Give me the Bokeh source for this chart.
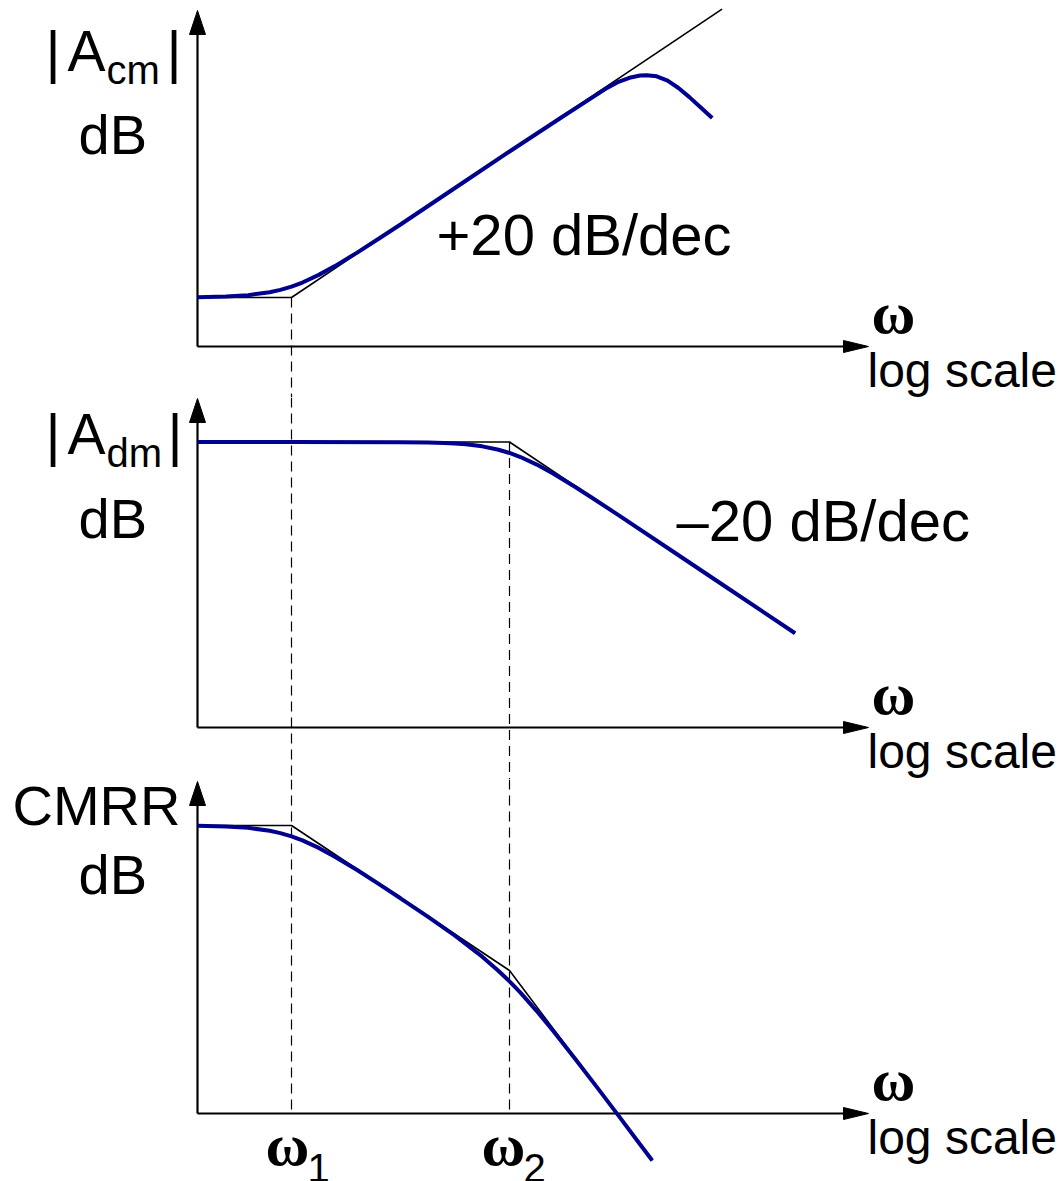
from bokeh.plotting import figure
from bokeh.models import Label, Range1d
from bokeh.layouts import column
from bokeh.embed import file_html
from bokeh.resources import INLINE

# ---------------- data (omega in rad/s, magnitudes in dB) ----------------
w1 = 10.0        # common-mode zero / first corner
w2 = 1000.0      # differential-mode pole / second corner

acm_w = [1.37, 2.5, 4.0, 6.3, 7.9, 10, 12.6, 17.8, 25, 40, 63, 100, 316, 1000,
         3160, 6310, 7940, 10000, 12600, 15800, 18200, 22400, 28200, 35500, 44700, 56200, 72400]
acm_db = [0.08, 0.27, 0.64, 1.46, 2.1, 3.0, 4.1, 6.2, 8.6, 12.3, 16.1, 20.0, 30.0, 40.0,
          49.8, 55.6, 57.5, 59.1, 60.2, 60.8, 60.9, 60.6, 59.4, 57.4, 54.9, 52.2, 49.2]
acm_asym_w = [1.37, 10, 89100]
acm_asym_db = [0, 0, 79]

adm_w = [1.37, 10, 100, 178, 251, 316, 398, 562, 794, 1000, 1260, 1780, 2510,
         3980, 5620, 10000, 31600, 100000, 417000]
adm_db = [80, 80, 79.96, 79.87, 79.73, 79.59, 79.36, 78.81, 77.88, 76.99, 75.88, 73.81,
          71.36, 67.73, 64.87, 59.96, 50.0, 40.0, 27.6]
adm_asym_w = [1.37, 1000, 417000]
adm_asym_db = [80, 80, 27.6]

cmrr_w = [1.37, 2.5, 4.0, 6.3, 7.9, 10, 12.6, 17.8, 25, 40, 63, 100, 178, 316, 562,
          794, 1000, 1260, 1780, 2510, 3980, 6310, 10000, 15800, 20400]
cmrr_db = [79.92, 79.73, 79.36, 78.54, 77.9, 76.99, 75.88, 73.81, 71.36, 67.73, 63.89,
           59.92, 54.85, 49.59, 43.81, 39.88, 36.99, 33.88, 28.81, 23.36, 15.73, 7.89,
           -0.04, -8.0, -12.4]
cmrr_asym_w = [1.37, 10, 1000, 20400]
cmrr_asym_db = [80, 80, 40, -12.4]

# ---------------- layout helpers (page pixel -> data) ----------------
PX_W1 = 291.0     # page x of w1
PX_DEC = 109.0    # pixels per decade
FIG_W = 1063
LEFT = 0


def wx(px):
    return w1 * 10 ** ((px - PX_W1) / PX_DEC)


PANELS = {
    1: dict(ref_py=297.0, ref_db=0.0, scale=3.65, top=0, h=397, axis_py=346, tip_py=10),
    2: dict(ref_py=441.5, ref_db=80.0, scale=3.65, top=397, h=382, axis_py=727, tip_py=398),
    3: dict(ref_py=825.0, ref_db=80.0, scale=3.625, top=779, h=402, axis_py=1113, tip_py=781),
}


def ly(panel, py):
    d = PANELS[panel]
    return d["ref_db"] + (d["ref_py"] - py) / d["scale"]


BLUE = "#00008f"
SANS = "Liberation Sans"
SERIF = "Liberation Serif"
AX_PX = 197
XTIP_PX = 868


def lab(p, n, px, base_py, text, size, font=SANS, style="normal"):
    # anchor at text-box bottom: baseline + descent
    anchor = base_py + 0.225 * size
    p.add_layout(Label(x=wx(px), y=ly(n, anchor), text=text, text_font=font, text_font_style=style,
                       text_font_size=f"{size}px", text_color="black", text_baseline="bottom",
                       text_align="left"))


def make_panel(n):
    d = PANELS[n]
    p = figure(width=FIG_W, height=d["h"], x_axis_type="log",
               x_axis_location=None, y_axis_location=None,
               x_range=Range1d(wx(LEFT), wx(LEFT + FIG_W)),
               y_range=Range1d(ly(n, d["top"] + d["h"]), ly(n, d["top"])),
               output_backend="svg", toolbar_location=None, min_border=0)
    p.grid.visible = False
    p.outline_line_color = None
    p.background_fill_color = "white"
    p.border_fill_color = "white"
    ya = ly(n, d["axis_py"])
    # x axis with arrowhead
    p.line([wx(AX_PX), wx(XTIP_PX - 20)], [ya, ya], line_color="black", line_width=2.2)
    p.patch([wx(XTIP_PX - 25), wx(XTIP_PX), wx(XTIP_PX - 25)],
            [ly(n, d["axis_py"] - 6), ya, ly(n, d["axis_py"] + 6)],
            fill_color="black", line_color="black", line_width=1)
    # y axis with arrowhead
    p.line([wx(AX_PX), wx(AX_PX)], [ya, ly(n, d["tip_py"] + 20)], line_color="black", line_width=2.2)
    p.patch([wx(AX_PX - 8), wx(AX_PX), wx(AX_PX + 8)],
            [ly(n, d["tip_py"] + 24), ly(n, d["tip_py"]), ly(n, d["tip_py"] + 24)],
            fill_color="black", line_color="black", line_width=1)
    # omega / log scale labels
    lab(p, n, 871, d["axis_py"] - 14, "ω", 60, SERIF, "bold")
    lab(p, n, 867, d["axis_py"] + 40, "log scale", 48)
    return p, ya


DASH = "10 6"

# ---------------- panel 1: |Acm| ----------------
p1, ya1 = make_panel(1)
p1.line([w1, w1], [0, ly(1, 397)], line_color="black", line_width=1.2, line_dash=DASH)
p1.line(acm_asym_w, acm_asym_db, line_color="black", line_width=1.6)
p1.line(acm_w, acm_db, line_color=BLUE, line_width=4)
lab(p1, 1, 45, 70, "|", 58)
lab(p1, 1, 67, 70, "A", 57)
lab(p1, 1, 106, 82, "cm", 40)
lab(p1, 1, 166, 70, "|", 58)
lab(p1, 1, 78, 153, "dB", 56)
lab(p1, 1, 436, 253, "+20 dB/dec", 58)

# ---------------- panel 2: |Adm| ----------------
p2, ya2 = make_panel(2)
p2.line([w1, w1], [ly(2, 397), ly(2, 779)], line_color="black", line_width=1.2, line_dash=DASH)
p2.line([w2, w2], [80, ly(2, 779)], line_color="black", line_width=1.2, line_dash=DASH)
p2.line(adm_asym_w, adm_asym_db, line_color="black", line_width=1.6)
p2.line(adm_w, adm_db, line_color=BLUE, line_width=4)
lab(p2, 2, 45, 453, "|", 58)
lab(p2, 2, 67, 453, "A", 57)
lab(p2, 2, 106, 465, "dm", 40)
lab(p2, 2, 167, 453, "|", 58)
lab(p2, 2, 78, 537, "dB", 56)
lab(p2, 2, 676, 539, "\u201320 dB/dec", 58)

# ---------------- panel 3: CMRR ----------------
p3, ya3 = make_panel(3)
p3.line([w1, w1], [ly(3, 779), ya3], line_color="black", line_width=1.2, line_dash=DASH)
p3.line([w2, w2], [ly(3, 779), ya3], line_color="black", line_width=1.2, line_dash=DASH)
p3.line(cmrr_asym_w, cmrr_asym_db, line_color="black", line_width=1.6)
p3.line(cmrr_w, cmrr_db, line_color=BLUE, line_width=4)
lab(p3, 3, 12, 824, "CMRR", 56)
lab(p3, 3, 78, 893, "dB", 56)
lab(p3, 3, 265, 1164, "ω", 60, SERIF, "bold")
lab(p3, 3, 307, 1172, "1", 40)
lab(p3, 3, 481, 1164, "ω", 60, SERIF, "bold")
lab(p3, 3, 523, 1172, "2", 40)

layout = column(p1, p2, p3)
open("out.html", "w").write(file_html(layout, INLINE))
